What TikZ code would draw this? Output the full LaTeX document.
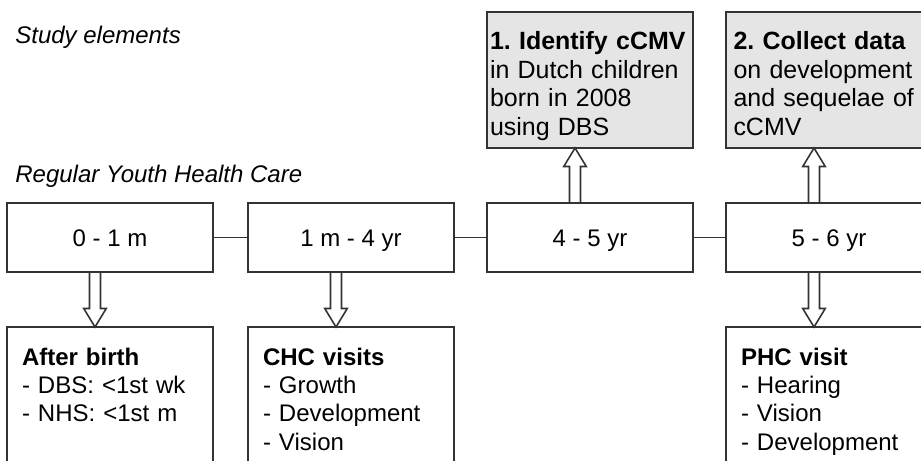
\documentclass[tikz,border=0pt]{standalone}
\usepackage{fontspec}
\setmainfont{Liberation Sans}
\usetikzlibrary{calc}
\frenchspacing

\tikzset{
  agebox/.style={draw=black!80, line width=0.9pt, minimum width=4.12cm, minimum height=1.38cm,
    inner sep=0pt, outer sep=0pt, text height=0.34cm, text depth=0pt,
    font=\fontsize{13.66pt}{16.2pt}\selectfont},
  studybox/.style={draw=black!80, fill=black!10, line width=0.9pt, anchor=north west, align=left,
    text width=4.0cm, inner xsep=0.06cm, inner ysep=0pt, outer sep=0pt,
    text height=0.76cm, text depth=1.96cm, font=\fontsize{14.2pt}{16.2pt}\selectfont},
  visitbox/.style={draw=black!80, line width=0.9pt, anchor=north west, align=left,
    text width=3.52cm, inner xsep=0.3cm, inner ysep=0pt, outer sep=0pt,
    text height=0.76cm, text depth=2.4cm, font=\fontsize{13.66pt}{16.2pt}\selectfont},
  heading/.style={anchor=base west, inner sep=0pt, font=\fontsize{13.66pt}{16.2pt}\selectfont\itshape},
  link/.style={draw=black!80, line width=0.9pt},
  fatarrow/.style={draw=black!80, line width=0.9pt, line join=miter}
}

\begin{document}
\begin{tikzpicture}

\useasboundingbox (0,0) rectangle (18.42,9.2);
\clip (0,0) rectangle (18.42,9.2);

\node[heading] (studyhead) at (0.3,8.34) {Study elements};
\node[heading] (carehead) at (0.3,5.56) {Regular Youth Health Care};

\node[studybox] (identify) at (9.74,8.96) {\textbf{1. Identify cCMV}\\in Dutch children\\born in 2008\\using DBS};
\node[studybox, inner xsep=0.15cm, text width=3.82cm] (collect) at (14.52,8.96) {\textbf{2. Collect data}\\on development\\and sequelae of\\cCMV};

\node[agebox] (age1) at (2.2,4.45) {0 - 1 m};
\node[agebox] (age2) at (7.02,4.45) {1 m - 4 yr};
\node[agebox] (age3) at (11.8,4.45) {4 - 5 yr};
\node[agebox] (age4) at (16.58,4.45) {5 - 6 yr};

\draw[link] (age1) -- (age2);
\draw[link] (age2) -- (age3);
\draw[link] (age3) -- (age4);

\node[visitbox] (birth) at (0.14,2.66) {\textbf{After birth}\\- DBS: <1st wk\\- NHS: <1st m};
\node[visitbox] (chc) at (4.96,2.66) {\textbf{CHC visits}\\- Growth\\- Development\\- Vision};
\node[visitbox] (phc) at (14.52,2.66) {\textbf{PHC visit}\\- Hearing\\- Vision\\- Development};

\foreach \a/\b in {age1.south/birth.north, age2.south/chc.north, age4.south/phc.north,
                   age3.north/identify.south, age4.north/collect.south}
  \draw[fatarrow] let \p1=([xshift=-0.3cm]\a), \p2=([xshift=-0.3cm]\b),
                      \n1={sign(\y2-\y1)*0.37cm} in
    (\x1-0.11cm,\y1) -- (\x1-0.11cm,\y2-\n1) -- (\x1-0.225cm,\y2-\n1) -- (\x2,\y2)
    -- (\x1+0.225cm,\y2-\n1) -- (\x1+0.11cm,\y2-\n1) -- (\x1+0.11cm,\y1);

\end{tikzpicture}
\end{document}
